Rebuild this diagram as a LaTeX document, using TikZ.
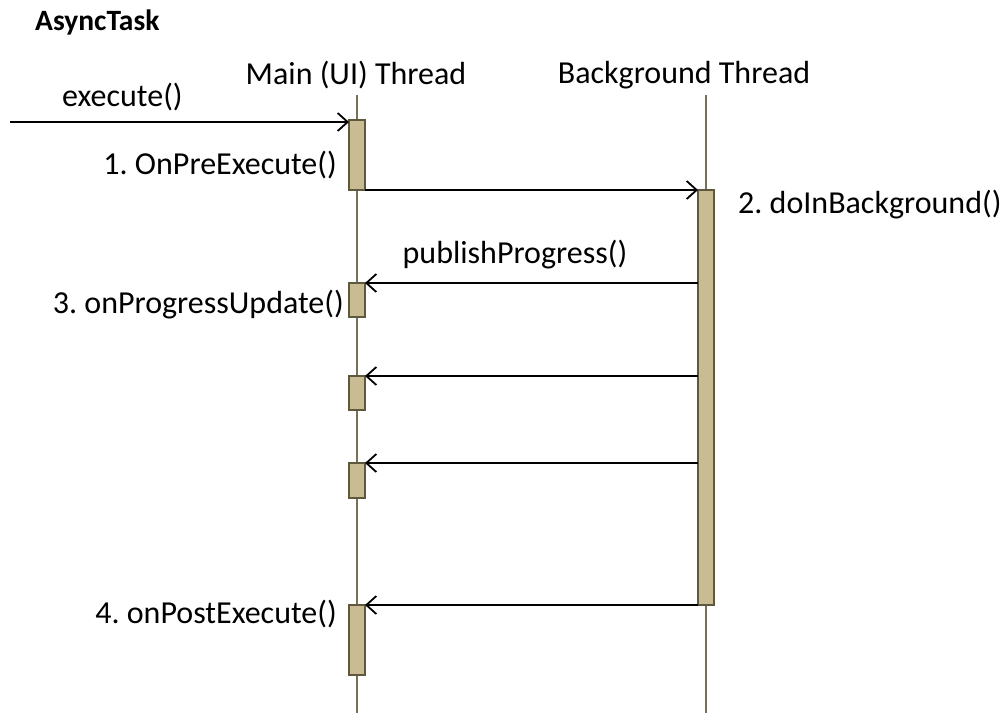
\documentclass[tikz,border=0pt]{standalone}
\usepackage{fontspec}
\setmainfont{Carlito}
\frenchspacing
\usetikzlibrary{arrows.meta}
\definecolor{boxfill}{RGB}{201,188,147}
\definecolor{boxline}{RGB}{94,88,60}
\definecolor{lifeline}{RGB}{120,112,84}

\begin{document}
\begin{tikzpicture}[x=1pt, y=-1pt,
	font=\fontsize{32}{36}\selectfont,
	act/.style={draw=boxline, fill=boxfill, line width=2pt, minimum width=16pt, inner sep=0pt, outer sep=0pt, anchor=north},
	life/.style={draw=lifeline, line width=1.6pt},
	msg/.style={line width=1.8pt, -{Straight Barb[length=10pt, width=18pt, line width=1.8pt]}},
	lbl/.style={inner sep=0pt}]
	\useasboundingbox (0,0) rectangle (1008,713);
	% title and lifeline heads
	\node [lbl, font=\fontsize{29.5}{34}\selectfont\bfseries, anchor=west] (title) at (35,22) {AsyncTask};
	\node [lbl] (main) at (356,75) {Main (UI) Thread};
	\node [lbl] (back) at (684,75) {Background Thread};
	% lifelines
	\coordinate (mainTop) at (357,95);
	\coordinate (mainEnd) at (357,713);
	\coordinate (backTop) at (706,95);
	\coordinate (backEnd) at (706,713);
	\draw [life] (mainTop) -- (mainEnd);
	\draw [life] (backTop) -- (backEnd);
	% activations
	\node [act, minimum height=70pt] (act1) at (357,120) {};
	\node [act, minimum height=415pt] (bg) at (706,190) {};
	\node [act, minimum height=34pt] (act2) at (357,283) {};
	\node [act, minimum height=34pt] (act3) at (357,376) {};
	\node [act, minimum height=35pt] (act4) at (357,463) {};
	\node [act, minimum height=70pt] (act5) at (357,605) {};
	% messages
	\coordinate (caller) at (10,122);
	\draw [msg] (caller) -- (caller -| act1.west);
	\node [lbl, anchor=west] (exec) at (62,97) {execute()};
	\draw [msg] (act1.south east) -- (bg.north west);
	\draw [msg] (bg.west |- act2.north) -- (act2.north east);
	\draw [msg] (bg.west |- act3.north) -- (act3.north east);
	\draw [msg] (bg.west |- act4.north) -- (act4.north east);
	\draw [msg] (bg.south west) -- (act5.north east);
	\node [lbl] (publish) at (515,255) {publishProgress()};
	% method labels
	\node [lbl, anchor=east] (pre) at (337,165) {1. OnPreExecute()};
	\node [lbl, anchor=west] (doin) at (738,205) {2. doInBackground()};
	\node [lbl, anchor=east] (update) at (344,305) {3. onProgressUpdate()};
	\node [lbl, anchor=east] (post) at (337,614) {4. onPostExecute()};
\end{tikzpicture}
\end{document}
